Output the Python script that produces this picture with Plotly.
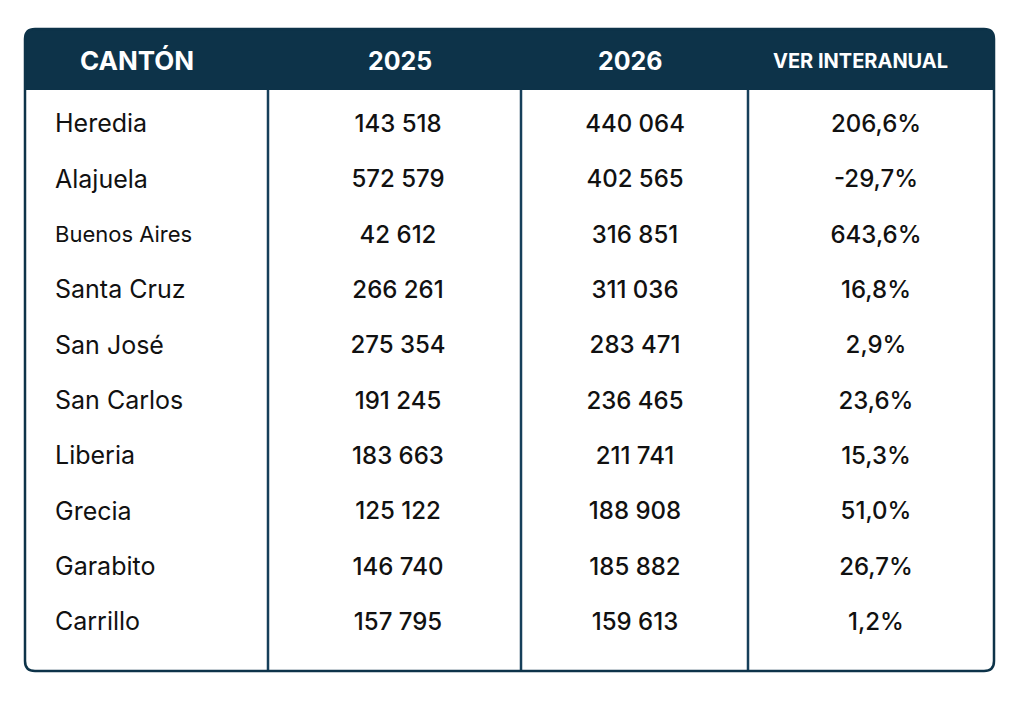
import plotly.graph_objects as go

# ---- data ----
cantones = ["Heredia", "Alajuela", "Buenos Aires", "Santa Cruz", "San José",
            "San Carlos", "Liberia", "Grecia", "Garabito", "Carrillo"]
v2025 = [143518, 572579, 42612, 266261, 275354, 191245, 183663, 125122, 146740, 157795]
v2026 = [440064, 402565, 316851, 311036, 283471, 236465, 211741, 188908, 185882, 159613]
variacion = [206.6, -29.7, 643.6, 16.8, 2.9, 23.6, 15.3, 51.0, 26.7, 1.2]
headers = ["CANTÓN", "2025", "2026", "VER INTERANUAL"]


def fmt_int(v):
    return f"{v:,}".replace(",", " ")


def fmt_pct(v):
    return f"{v:.1f}".replace(".", ",") + "%"


rows = list(range(len(cantones)))

# ---- layout constants (pixels of the page) ----
W, H = 1024, 704
OFF = 8  # page body margin
L, R, T, HB, B, RAD = 25, 994, 29, 90, 671, 10
NAVY = "#0d3349"
TXT = "#111111"
FONT = "Inter"
col_x = [55, 398, 635, 876]
head_x = [137, 400, 630, 860]
head_size = [26, 25, 25, 20]
dividers = [268, 521, 748]

fig = go.Figure()

name_sizes = [22 if len(c) > 10 else 25 for c in cantones]
fig.add_trace(go.Scatter(x=[col_x[0]] * len(rows), y=rows, mode="text", text=cantones,
                         textposition="middle right",
                         textfont=dict(family=FONT, size=name_sizes, color=TXT, weight=400),
                         hoverinfo="skip", showlegend=False))
for cx, vals in ((col_x[1], [fmt_int(v) for v in v2025]),
                 (col_x[2], [fmt_int(v) for v in v2026]),
                 (col_x[3], [fmt_pct(v) for v in variacion])):
    fig.add_trace(go.Scatter(x=[cx] * len(rows), y=rows, mode="text", text=vals,
                             textposition="middle center",
                             textfont=dict(family=FONT, size=24, color=TXT, weight=500),
                             hoverinfo="skip", showlegend=False))
# empty trace so the pixel axis exists
fig.add_trace(go.Scatter(x=[], y=[], yaxis="y2", showlegend=False, hoverinfo="skip"))

header_path = (f"M {L+RAD},{T} H {R-RAD} Q {R},{T} {R},{T+RAD} V {HB} H {L} V {T+RAD} "
               f"Q {L},{T} {L+RAD},{T} Z")
outer_path = (f"M {L+RAD},{T} H {R-RAD} Q {R},{T} {R},{T+RAD} V {B-RAD} Q {R},{B} {R-RAD},{B} "
              f"H {L+RAD} Q {L},{B} {L},{B-RAD} V {T+RAD} Q {L},{T} {L+RAD},{T} Z")
shapes = [dict(type="path", path=header_path, xref="x", yref="y2",
               fillcolor=NAVY, line=dict(width=0), layer="below")]
for dx in dividers:
    shapes.append(dict(type="line", x0=dx, x1=dx, y0=HB, y1=B, xref="x", yref="y2",
                       line=dict(color="#163f5a", width=2.5), layer="below"))
shapes.append(dict(type="path", path=outer_path, xref="x", yref="y2",
                   line=dict(color=NAVY, width=2.5), layer="below"))

annotations = []
for hx, hs, ht in zip(head_x, head_size, headers):
    annotations.append(dict(x=hx, y=(T + HB) / 2 + 1, xref="x", yref="y2", text=ht,
                            showarrow=False, xanchor="center", yanchor="middle",
                            font=dict(family=FONT, size=hs, color="white", weight=700)))

# row axis: row 0 at 126px, row 9 at 624px (page pixels)
r0_px, step = 126, (624 - 126) / 9
fig.update_layout(
    width=W, height=H, margin=dict(l=0, r=0, t=0, b=0),
    paper_bgcolor="white", plot_bgcolor="white",
    xaxis=dict(range=[OFF, W + OFF], visible=False, fixedrange=True),
    yaxis=dict(range=[(H + OFF - r0_px) / step, (OFF - r0_px) / step],
               visible=False, fixedrange=True),
    yaxis2=dict(range=[H + OFF, OFF], visible=False, overlaying="y", fixedrange=True),
    shapes=shapes, annotations=annotations,
)

fig.write_html("out.html")
